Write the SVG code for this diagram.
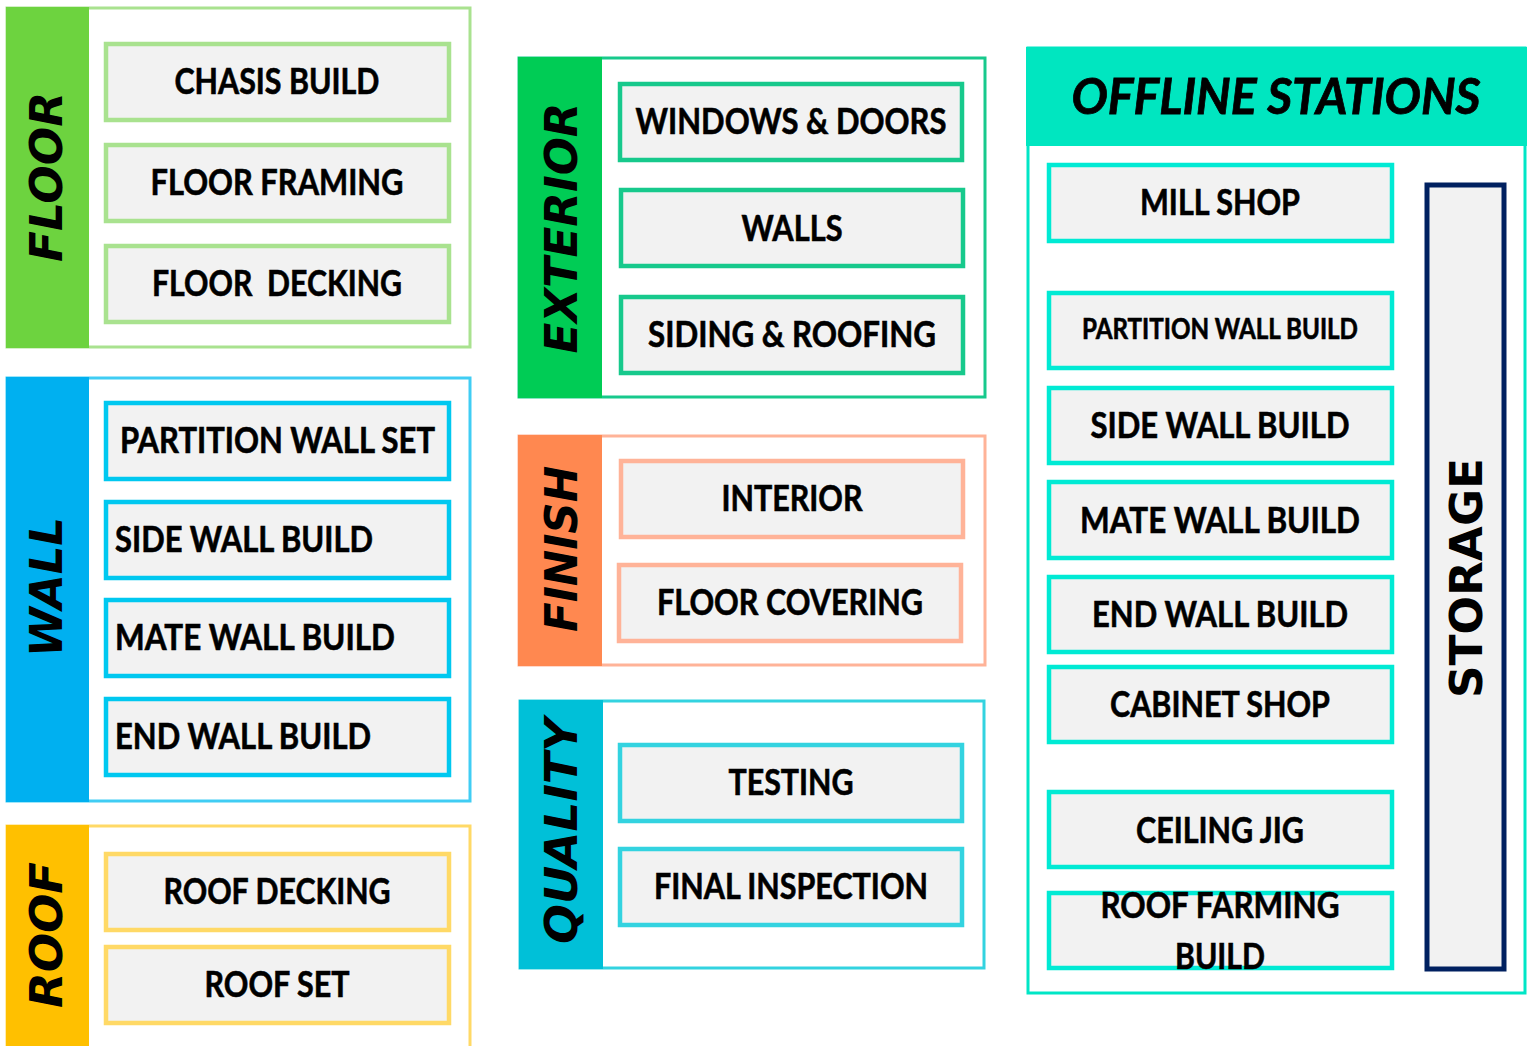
<svg xmlns="http://www.w3.org/2000/svg" width="1529" height="1046" viewBox="0 0 1529 1046">
  <style>
    .bg { fill: #ffffff; }
    .panel { fill: #ffffff; stroke-width: 3; }
    .box { fill: #f2f2f2; stroke-width: 4.5; }
    .lbl { font-family: Lato, "Open Sans", "Liberation Sans", sans-serif; font-weight: 700; font-size: 36px; fill: #000; stroke: #000; stroke-width: 0.6; text-anchor: middle; }
    .lbl-l { text-anchor: start; }
    .side { font-family: "DejaVu Sans", "Liberation Sans", sans-serif; font-weight: 700; font-style: italic; font-size: 44px; fill: #000; text-anchor: middle; }
    .head { font-family: Lato, "Open Sans", "Liberation Sans", sans-serif; font-weight: 700; font-style: italic; font-size: 50px; fill: #000; stroke: #000; stroke-width: 0.8; text-anchor: middle; }
    .floor .panel, .floor .box { stroke: #a9e28f; }
    .wall .panel { stroke: #40cdf4; }
    .wall .box { stroke: #00c8f0; }
    .roof .panel, .roof .box { stroke: #ffd966; }
    .ext .panel, .ext .box { stroke: #17c98c; }
    .fin .panel, .fin .box { stroke: #ffb398; }
    .qual .panel, .qual .box { stroke: #33d3e0; }
    .off .panel { stroke: #00e6c6; }
    .off .box { stroke: #00ead4; }
  </style>
  <rect class="bg" x="0" y="0" width="1529" height="1046"/>

  <!-- FLOOR -->
  <g id="floor" class="floor">
    <rect class="panel" x="7" y="8" width="463" height="339"/>
    <rect x="6" y="7" width="83" height="341" fill="#6dd33f"/>
    <text class="side" transform="translate(62,177) rotate(-90)" textLength="170" lengthAdjust="spacingAndGlyphs">FLOOR</text>
    <g id="chasis-build"><rect class="box" x="106" y="44" width="343" height="76"/><text class="lbl" x="277" y="94" textLength="205" lengthAdjust="spacingAndGlyphs">CHASIS BUILD</text></g>
    <g id="floor-framing"><rect class="box" x="106" y="145" width="343" height="76"/><text class="lbl" x="277" y="195" textLength="253" lengthAdjust="spacingAndGlyphs">FLOOR FRAMING</text></g>
    <g id="floor-decking"><rect class="box" x="106" y="246" width="343" height="76"/><text class="lbl" x="277" y="296" textLength="250" lengthAdjust="spacingAndGlyphs" xml:space="preserve">FLOOR  DECKING</text></g>
  </g>

  <!-- WALL -->
  <g id="wall" class="wall">
    <rect class="panel" x="7" y="378" width="463" height="423"/>
    <rect x="6" y="377" width="83" height="425" fill="#00b0f0"/>
    <text class="side" transform="translate(62,587) rotate(-90)" textLength="140" lengthAdjust="spacingAndGlyphs">WALL</text>
    <g id="partition-wall-set"><rect class="box" x="106" y="403" width="343" height="76"/><text class="lbl lbl-l" x="120" y="453" textLength="315" lengthAdjust="spacingAndGlyphs">PARTITION WALL SET</text></g>
    <g id="side-wall-build"><rect class="box" x="106" y="502" width="343" height="76"/><text class="lbl lbl-l" x="115" y="552" textLength="258" lengthAdjust="spacingAndGlyphs">SIDE WALL BUILD</text></g>
    <g id="mate-wall-build"><rect class="box" x="106" y="600" width="343" height="76"/><text class="lbl lbl-l" x="115" y="650" textLength="280" lengthAdjust="spacingAndGlyphs">MATE WALL BUILD</text></g>
    <g id="end-wall-build"><rect class="box" x="106" y="699" width="343" height="76"/><text class="lbl lbl-l" x="115" y="749" textLength="256" lengthAdjust="spacingAndGlyphs">END WALL BUILD</text></g>
  </g>

  <!-- ROOF -->
  <g id="roof" class="roof">
    <rect class="panel" x="7" y="826" width="463" height="240"/>
    <rect x="6" y="825" width="83" height="241" fill="#ffc000"/>
    <text class="side" transform="translate(62,935) rotate(-90)" textLength="146" lengthAdjust="spacingAndGlyphs">ROOF</text>
    <g id="roof-decking"><rect class="box" x="106" y="854" width="343" height="76"/><text class="lbl" x="277" y="904" textLength="227" lengthAdjust="spacingAndGlyphs">ROOF DECKING</text></g>
    <g id="roof-set"><rect class="box" x="106" y="947" width="343" height="76"/><text class="lbl" x="277" y="997" textLength="145" lengthAdjust="spacingAndGlyphs">ROOF SET</text></g>
  </g>

  <!-- EXTERIOR -->
  <g id="exterior" class="ext">
    <rect class="panel" x="519" y="58" width="466" height="339"/>
    <rect x="518" y="57" width="84" height="341" fill="#00cc55"/>
    <text class="side" transform="translate(577,228) rotate(-90)" textLength="251" lengthAdjust="spacingAndGlyphs">EXTERIOR</text>
    <g id="windows-doors"><rect class="box" x="620" y="84" width="342" height="76"/><text class="lbl" x="791" y="134" textLength="311" lengthAdjust="spacingAndGlyphs">WINDOWS &amp; DOORS</text></g>
    <g id="walls"><rect class="box" x="621" y="190" width="342" height="76"/><text class="lbl" x="792" y="241" textLength="101" lengthAdjust="spacingAndGlyphs">WALLS</text></g>
    <g id="siding-roofing"><rect class="box" x="621" y="297" width="342" height="76"/><text class="lbl" x="792" y="347" textLength="288" lengthAdjust="spacingAndGlyphs">SIDING &amp; ROOFING</text></g>
  </g>

  <!-- FINISH -->
  <g id="finish" class="fin">
    <rect class="panel" x="519" y="436" width="466" height="229"/>
    <rect x="518" y="435" width="84" height="231" fill="#ff8850"/>
    <text class="side" transform="translate(577,549) rotate(-90)" textLength="166" lengthAdjust="spacingAndGlyphs">FINISH</text>
    <g id="interior"><rect class="box" x="621" y="461" width="342" height="76"/><text class="lbl" x="792" y="511" textLength="141" lengthAdjust="spacingAndGlyphs">INTERIOR</text></g>
    <g id="floor-covering"><rect class="box" x="619" y="565" width="342" height="76"/><text class="lbl" x="790" y="615" textLength="266" lengthAdjust="spacingAndGlyphs">FLOOR COVERING</text></g>
  </g>

  <!-- QUALITY -->
  <g id="quality" class="qual">
    <rect class="panel" x="520" y="701" width="464" height="267"/>
    <rect x="519" y="700" width="84" height="269" fill="#00c0d8"/>
    <text class="side" transform="translate(577,831) rotate(-90)" textLength="226" lengthAdjust="spacingAndGlyphs">QUALITY</text>
    <g id="testing"><rect class="box" x="620" y="745" width="342" height="76"/><text class="lbl" x="791" y="795" textLength="125" lengthAdjust="spacingAndGlyphs">TESTING</text></g>
    <g id="final-inspection"><rect class="box" x="620" y="849" width="342" height="76"/><text class="lbl" x="791" y="899" textLength="274" lengthAdjust="spacingAndGlyphs">FINAL INSPECTION</text></g>
  </g>

  <!-- OFFLINE STATIONS -->
  <g id="offline" class="off">
    <rect class="panel" x="1028" y="48" width="497" height="945"/>
    <rect x="1026" y="47" width="501" height="99" fill="#00e6c0"/>
    <text class="head" x="1276" y="114" textLength="409" lengthAdjust="spacingAndGlyphs">OFFLINE STATIONS</text>
    <g id="mill-shop"><rect class="box" x="1049" y="165" width="343" height="76"/><text class="lbl" x="1220" y="215" textLength="160" lengthAdjust="spacingAndGlyphs">MILL SHOP</text></g>
    <g id="partition-wall-build"><rect class="box" x="1049" y="293" width="343" height="75"/><text class="lbl" x="1220" y="339" style="font-size:28px" textLength="276" lengthAdjust="spacingAndGlyphs">PARTITION WALL BUILD</text></g>
    <g id="off-side-wall-build"><rect class="box" x="1049" y="388" width="343" height="75"/><text class="lbl" x="1220" y="438" textLength="259" lengthAdjust="spacingAndGlyphs">SIDE WALL BUILD</text></g>
    <g id="off-mate-wall-build"><rect class="box" x="1049" y="482" width="343" height="76"/><text class="lbl" x="1220" y="533" textLength="280" lengthAdjust="spacingAndGlyphs">MATE WALL BUILD</text></g>
    <g id="off-end-wall-build"><rect class="box" x="1049" y="577" width="343" height="75"/><text class="lbl" x="1220" y="627" textLength="256" lengthAdjust="spacingAndGlyphs">END WALL BUILD</text></g>
    <g id="cabinet-shop"><rect class="box" x="1049" y="667" width="343" height="75"/><text class="lbl" x="1220" y="717" textLength="220" lengthAdjust="spacingAndGlyphs">CABINET SHOP</text></g>
    <g id="ceiling-jig"><rect class="box" x="1049" y="792" width="343" height="75"/><text class="lbl" x="1220" y="843" textLength="168" lengthAdjust="spacingAndGlyphs">CEILING JIG</text></g>
    <g id="roof-farming-build"><rect class="box" x="1049" y="893" width="343" height="75"/>
      <text class="lbl" x="1220" y="918" textLength="239" lengthAdjust="spacingAndGlyphs">ROOF FARMING</text>
      <text class="lbl" x="1220" y="969" textLength="90" lengthAdjust="spacingAndGlyphs">BUILD</text></g>
    <g id="storage"><rect x="1427" y="185" width="77" height="784" fill="#f2f2f2" stroke="#002060" stroke-width="5"/>
      <text class="side" style="font-style:normal" transform="translate(1482,578) rotate(-90)" textLength="240" lengthAdjust="spacingAndGlyphs">STORAGE</text></g>
  </g>

  <!-- no connectors in this layout -->
  <g id="connectors"/>
</svg>
